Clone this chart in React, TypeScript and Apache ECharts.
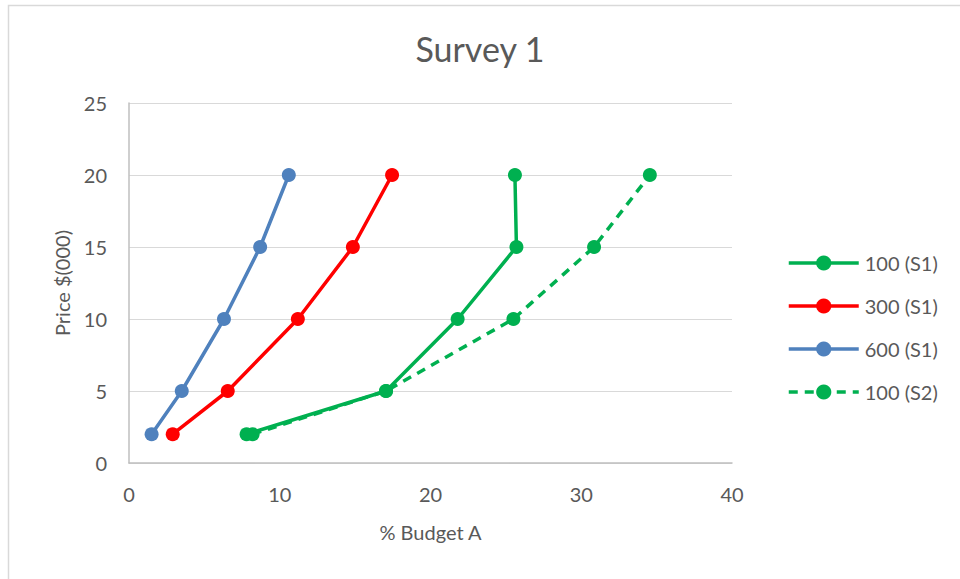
import React, { useEffect, useRef } from "react";
import * as echarts from "echarts";

const seriesNames = ["100 (S1)", "300 (S1)", "600 (S1)", "100 (S2)"];
const priceLevels = [2, 5, 10, 15, 20];
const budget100S1 = [7.8, 17.05, 21.8, 25.7, 25.6];
const budget300S1 = [2.9, 6.55, 11.2, 14.85, 17.45];
const budget600S1 = [1.5, 3.5, 6.3, 8.7, 10.6];
const budget100S2 = [8.2, 17.05, 25.5, 30.85, 34.55];
const xTicks = [0, 10, 20, 30, 40];
const yTicks = [0, 5, 10, 15, 20, 25];

const GREEN = "#00b050";
const RED = "#ff0000";
const BLUE = "#4f81bd";
const FONT = "Lato, 'Open Sans', sans-serif";
const TEXT = "#595959";

function pairs(xs: number[], ys: number[]) {
  return xs.map((x, i) => [x, ys[i]]);
}

export default function App() {
  const ref = useRef<HTMLDivElement>(null);
  useEffect(() => {
    if (!ref.current) return;
    const chart = echarts.init(ref.current, undefined, { renderer: "svg" });
    const mk = (name: string, color: string, data: number[][], dashed = false) => ({
      name,
      type: "line",
      data,
      symbol: "circle",
      symbolSize: 14,
      showSymbol: true,
      itemStyle: { color },
      lineStyle: { color, width: 3.5, type: dashed ? [9, 7] : "solid" },
      emphasis: { disabled: true },
      z: dashed ? 2 : 3,
    });
    chart.setOption({
      animation: false,
      textStyle: { fontFamily: FONT },
      graphic: [
        {
          type: "rect",
          shape: { x: 8.5, y: 5.5, width: 1000, height: 1000 },
          style: { fill: "none", stroke: "#d9d9d9", lineWidth: 1.5 },
          silent: true,
        },
      ],
      title: {
        text: "Survey 1",
        left: "center",
        top: 26,
        textStyle: { fontFamily: FONT, fontSize: 34, fontWeight: "normal", color: TEXT },
      },
      legend: {
        orient: "vertical",
        left: 782,
        top: 248,
        itemWidth: 70,
        itemHeight: 19,
        itemGap: 23,
        data: seriesNames,
        lineStyle: { width: 3.5 },
        textStyle: { fontFamily: FONT, fontSize: 20, color: TEXT, padding: [0, 0, 0, 1] },
      },
      grid: { left: 129, right: 228, top: 103, bottom: 116, containLabel: false },
      xAxis: {
        type: "value",
        min: xTicks[0],
        max: xTicks[xTicks.length - 1],
        interval: 10,
        name: "% Budget A",
        nameLocation: "middle",
        nameGap: 59,
        nameTextStyle: { fontFamily: FONT, fontSize: 20, color: TEXT },
        axisLine: { show: true, lineStyle: { color: "#bfbfbf", width: 1.5 } },
        axisTick: { show: false },
        axisLabel: { fontFamily: FONT, fontSize: 20, color: TEXT, margin: 21 },
        splitLine: { show: false },
      },
      yAxis: {
        type: "value",
        min: yTicks[0],
        max: yTicks[yTicks.length - 1],
        interval: 5,
        name: "Price $(000)",
        nameLocation: "middle",
        nameGap: 57,
        nameTextStyle: { fontFamily: FONT, fontSize: 20, color: TEXT },
        axisLine: { show: true, lineStyle: { color: "#bfbfbf", width: 1.5 } },
        axisTick: { show: false },
        axisLabel: { fontFamily: FONT, fontSize: 20, color: TEXT, margin: 22 },
        splitLine: { show: true, lineStyle: { color: "#d9d9d9", width: 1.2 } },
      },
      series: [
        mk(seriesNames[0], GREEN, pairs(budget100S1, priceLevels)),
        mk(seriesNames[1], RED, pairs(budget300S1, priceLevels)),
        mk(seriesNames[2], BLUE, pairs(budget600S1, priceLevels)),
        mk(seriesNames[3], GREEN, pairs(budget100S2, priceLevels), true),
      ],
    });
    return () => chart.dispose();
  }, []);
  return (
    <div
      ref={ref}
      style={{ width: 960, height: 579, position: "absolute", left: 0, top: 0, background: "#fff" }}
    />
  );
}
